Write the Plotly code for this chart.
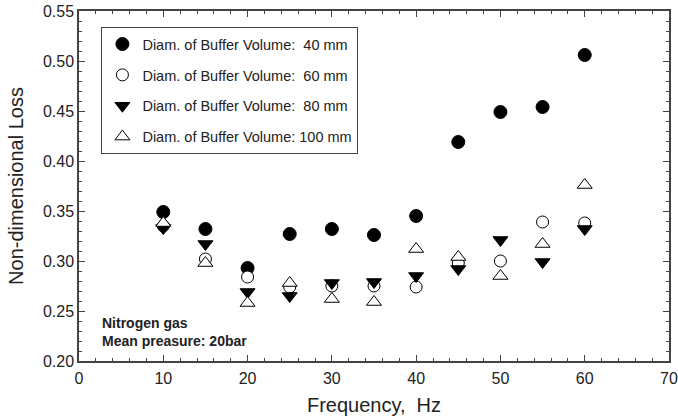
import plotly.graph_objects as go

freq = [10, 15, 20, 25, 30, 35, 40, 45, 50, 55, 60]
d40 = [0.349, 0.332, 0.293, 0.327, 0.332, 0.326, 0.345, 0.419, 0.449, 0.454, 0.506]
d60 = [0.335, 0.302, 0.284, 0.274, 0.275, 0.275, 0.274, 0.298, 0.300, 0.339, 0.338]
d80 = [0.333, 0.317, 0.269, 0.265, 0.278, 0.279, 0.285, 0.292, 0.321, 0.299, 0.332]
d100 = [0.338, 0.298, 0.258, 0.278, 0.262, 0.259, 0.312, 0.304, 0.285, 0.317, 0.376]

names = ["Diam. of Buffer Volume:  40 mm", "Diam. of Buffer Volume:  60 mm",
         "Diam. of Buffer Volume:  80 mm", "Diam. of Buffer Volume: 100 mm"]

FONT = "Liberation Sans, Arial, sans-serif"
AX = "#444444"

fig = go.Figure()
specs = [
    (d40, "circle", "black", 13),
    (d60, "circle", "white", 12),
    (d80, "triangle-down", "black", 13),
    (d100, "triangle-up", "white", 13),
]
for i, (vals, sym, fill, size) in enumerate(specs):
    fig.add_trace(go.Scatter(
        x=freq, y=vals, mode="markers", name=names[i], legendgroup=f"g{i}",
        marker=dict(symbol=sym, color=fill, size=size,
                    line=dict(color="black", width=1)),
    ))

axis_common = dict(
    showline=True, linecolor=AX, linewidth=1.5, mirror="ticks",
    ticks="inside", ticklen=6, tickcolor=AX, tickwidth=1,
    showgrid=False, zeroline=False, automargin=False,
    tickfont=dict(family=FONT, size=16, color="#222"),
)

fig.update_xaxes(
    range=[0, 70], dtick=10, tick0=0,
    minor=dict(dtick=2, ticks="inside", ticklen=3, tickcolor=AX),
    ticklabelstandoff=2,
    title=dict(text="Frequency,  Hz", font=dict(family=FONT, size=20, color="#222"), standoff=12),
    **axis_common,
)
fig.update_yaxes(
    range=[0.20, 0.55], dtick=0.05, tick0=0.2, tickformat=".2f",
    minor=dict(dtick=0.01, ticks="inside", ticklen=3, tickcolor=AX),
    title=dict(text="Non-dimensional Loss", font=dict(family=FONT, size=20, color="#222"), standoff=14),
    **axis_common,
)

fig.add_annotation(
    xref="paper", yref="paper", x=0.036, y=0.083, xanchor="left", yanchor="middle",
    text="<b>Nitrogen gas<br>Mean preasure: 20bar</b>", showarrow=False, align="left",
    font=dict(family=FONT, size=14, color="#222"),
)

fig.update_layout(
    width=678, height=418,
    margin=dict(l=79, r=9, t=11, b=57),
    paper_bgcolor="white", plot_bgcolor="white",
    showlegend=True,
    legend=dict(
        x=0.038, y=0.954, xanchor="left", yanchor="top",
        bordercolor=AX, borderwidth=1, bgcolor="white",
        font=dict(family=FONT, size=14.5, color="#222"),
        tracegroupgap=9, itemsizing="trace",
    ),
)

fig.write_html("out.html")
